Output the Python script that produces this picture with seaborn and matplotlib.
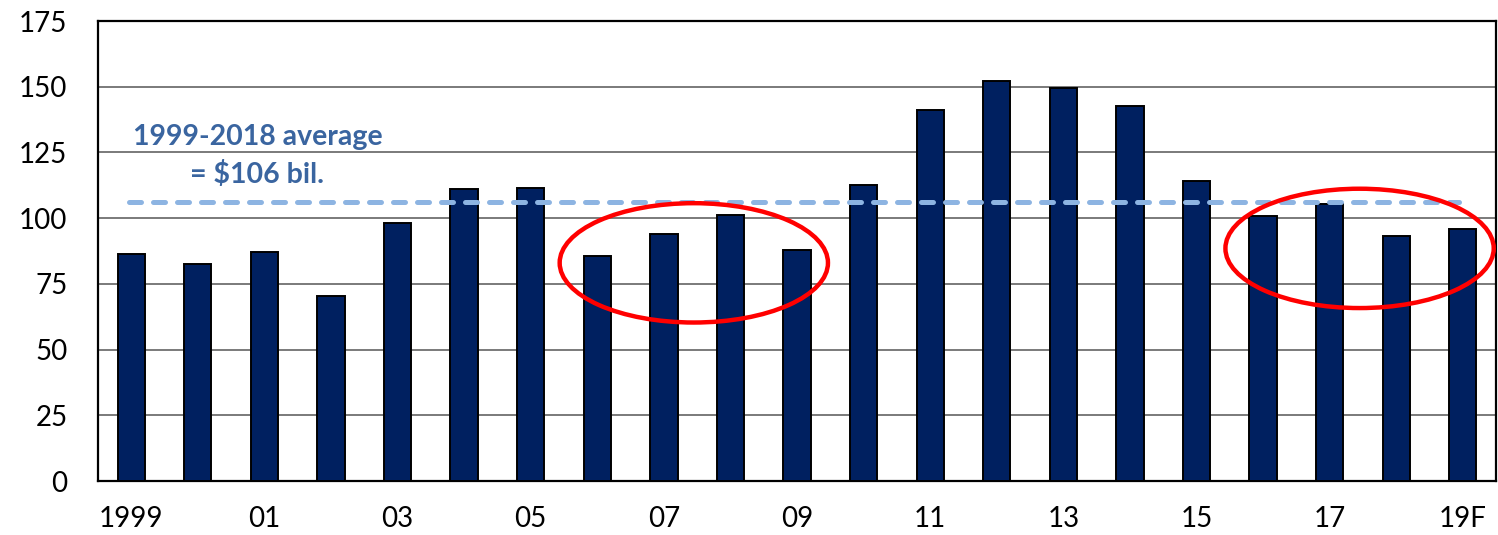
import matplotlib
matplotlib.use("Agg")
import matplotlib.pyplot as plt
from matplotlib.patches import Ellipse
import seaborn as sns
import pandas as pd
import numpy as np

# ---- data ----
years = ["1999", "2000", "2001", "2002", "2003", "2004", "2005", "2006", "2007",
         "2008", "2009", "2010", "2011", "2012", "2013", "2014", "2015", "2016",
         "2017", "2018", "2019F"]
tick_labels = ["1999", "", "01", "", "03", "", "05", "", "07", "", "09", "",
               "11", "", "13", "", "15", "", "17", "", "19F"]
values = [86.3, 82.6, 87.3, 70.4, 98.1, 111.0, 111.3, 85.5, 93.9, 101.1, 88.0,
          112.6, 141.2, 152.0, 149.7, 142.5, 114.1, 100.7, 105.2, 93.2, 95.8]
average_value = 106
average_line1 = "1999-2018 average"
average_line2 = "= $106 bil."
circled_groups = [["2006", "2007", "2008", "2009"], ["2016", "2017", "2018", "2019F"]]

df = pd.DataFrame({"year": years, "value": values})

sns.set_style("white")
plt.rcParams["font.family"] = ["Lato", "DejaVu Sans"]

fig = plt.figure(figsize=(14.98, 5.35), dpi=100)
ax = fig.add_axes([0.0654, 0.1009, 0.9333, 0.8598])

sns.barplot(data=df, x="year", y="value", order=years, color="#002060",
            saturation=1, width=0.41, edgecolor="black", linewidth=1.4,
            ax=ax, zorder=3)

ax.set_ylim(0, 175)
ax.set_xlim(-0.5, len(years) - 0.5)
ax.set_yticks(np.arange(0, 176, 25))
ax.yaxis.grid(True, color="#6f6f6f", linewidth=1.3, zorder=0)
ax.set_axisbelow(True)
ax.set_xlabel("")
ax.set_ylabel("")

for s in ax.spines.values():
    s.set_visible(True)
    s.set_color("black")
    s.set_linewidth(1.6)

ax.set_xticks(range(len(years)))
ax.set_xticklabels(tick_labels)
ax.set_xticks(np.arange(-0.5, len(years), 1.0), minor=True)
ax.tick_params(axis="x", which="major", length=0, pad=18, labelsize=20, colors="black")
ax.tick_params(axis="x", which="minor", length=9, width=1.6, direction="out", color="black")
ax.tick_params(axis="y", which="both", length=0, pad=22, labelsize=20, colors="black")

# average line
ax.plot([-0.03, 19.95], [average_value, average_value], color="#8db4e2",
        linewidth=3.6, dashes=(2.4, 2.4), dash_capstyle="round", zorder=5)
ax.text(0.03, 131, average_line1, color="#3a65a0", fontsize=20.5,
        fontweight="bold", ha="left", va="center", zorder=6)
ax.text(0.88, 116.8, average_line2, color="#3a65a0", fontsize=20.5,
        fontweight="bold", ha="left", va="center", zorder=6)

# ellipses around groups
ellipse_y = [83, 88.5]
for grp, yc in zip(circled_groups, ellipse_y):
    idx = [years.index(g) for g in grp]
    xc = np.mean(idx)
    e = Ellipse((xc - 0.05, yc), width=4.03, height=45.4, fill=False,
                edgecolor="#ff0000", linewidth=3.2, zorder=7)
    ax.add_patch(e)

fig.savefig("out.png", dpi=100)
